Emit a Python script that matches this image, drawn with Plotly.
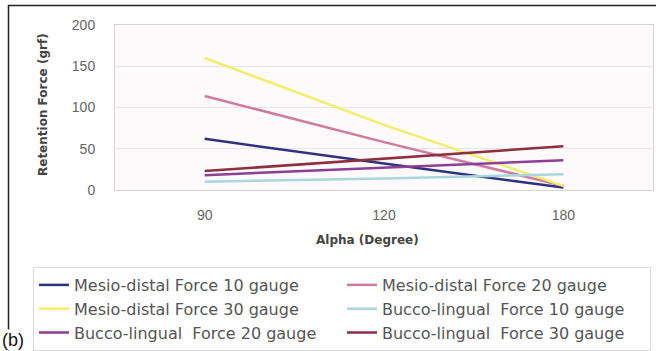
import plotly.graph_objects as go

categories = ["90", "120", "180"]
series_names = [
    "Mesio-distal Force 10 gauge",
    "Mesio-distal Force 20 gauge",
    "Mesio-distal Force 30 gauge",
    "Bucco-lingual  Force 10 gauge",
    "Bucco-lingual  Force 20 gauge",
    "Bucco-lingual  Force 30 gauge",
]
md10 = [62, 32, 3]
md20 = [114, 58, 5]
md30 = [160, 79, 5]
bl10 = [10, 14, 19]
bl20 = [18, 27, 36]
bl30 = [23, 38, 53]
series_values = [md10, md20, md30, bl10, bl20, bl30]
colors = ["#2E3182", "#D07AA0", "#F2EE6A", "#A8D6DA", "#8E3E95", "#8E2E3E"]
y_ticks = [0, 50, 100, 150, 200]

W, H = 656, 351
L, R, T, B = 115, 653, 25, 190  # plot area in px
pw, ph = R - L, B - T

def px_x(x):
    return (x - L) / pw

def px_y(y):
    return (B - y) / ph

fig = go.Figure()
for name, vals, c in zip(series_names, series_values, colors):
    fig.add_trace(go.Scatter(x=categories, y=vals, mode="lines", name=name,
                             line=dict(color=c, width=2.5)))

tick_font = "Liberation Sans, Arial, sans-serif"
wide_font = "DejaVu Sans, sans-serif"
fig.update_layout(
    width=W, height=H,
    margin=dict(l=L, r=W - R, t=T, b=H - B, autoexpand=False),
    paper_bgcolor="white",
    plot_bgcolor="#FDFAFC",
    font=dict(family=tick_font, size=14, color="#555"),
    xaxis=dict(type="category", range=[-0.5, 2.5], showgrid=False,
               showline=True, linecolor="#D8D4D6", mirror=True,
               ticks="", ticklabelstandoff=12, tickfont=dict(size=14, color="#666")),
    yaxis=dict(range=[0, 200], tickvals=y_ticks, showgrid=True, gridcolor="#EDE3E8",
               showline=True, linecolor="#D8D4D6", mirror=True, zeroline=False,
               ticks="", ticklabelstandoff=16, tickfont=dict(size=14, color="#666")),
    legend=dict(orientation="h", x=px_x(33), y=px_y(267), xanchor="left", yanchor="top",
                entrywidth=263, entrywidthmode="pixels",
                bordercolor="#DCD8DA", borderwidth=1, bgcolor="white",
                font=dict(size=16, color="#555", family=wide_font), tracegroupgap=0),
    showlegend=True,
)

fig.add_annotation(text="<b>Retention Force (grf)</b>", xref="paper", yref="paper",
                   x=px_x(43), y=px_y(105), xanchor="center", yanchor="middle", textangle=-90,
                   showarrow=False, font=dict(size=12, color="#444", family=wide_font))

fig.add_annotation(text="<b>Alpha (Degree)</b>", xref="paper", yref="paper",
                   x=px_x(367), y=px_y(240), xanchor="center", yanchor="middle",
                   showarrow=False, font=dict(size=12, color="#444", family=wide_font))

# outer frame
fig.add_shape(type="rect", xref="paper", yref="paper",
              x0=px_x(8.5), x1=px_x(670), y0=px_y(400), y1=px_y(5.5),
              line=dict(color="#222", width=1.5), layer="below")

fig.add_annotation(text="(b)", xref="paper", yref="paper",
                   x=px_x(1), y=px_y(351), xanchor="left", yanchor="bottom",
                   showarrow=False, bgcolor="white", borderpad=0,
                   font=dict(size=18, color="#111", family=tick_font))

fig.write_html("out.html", config={"displayModeBar": False},
               post_script="document.body.style.margin='0px';")
